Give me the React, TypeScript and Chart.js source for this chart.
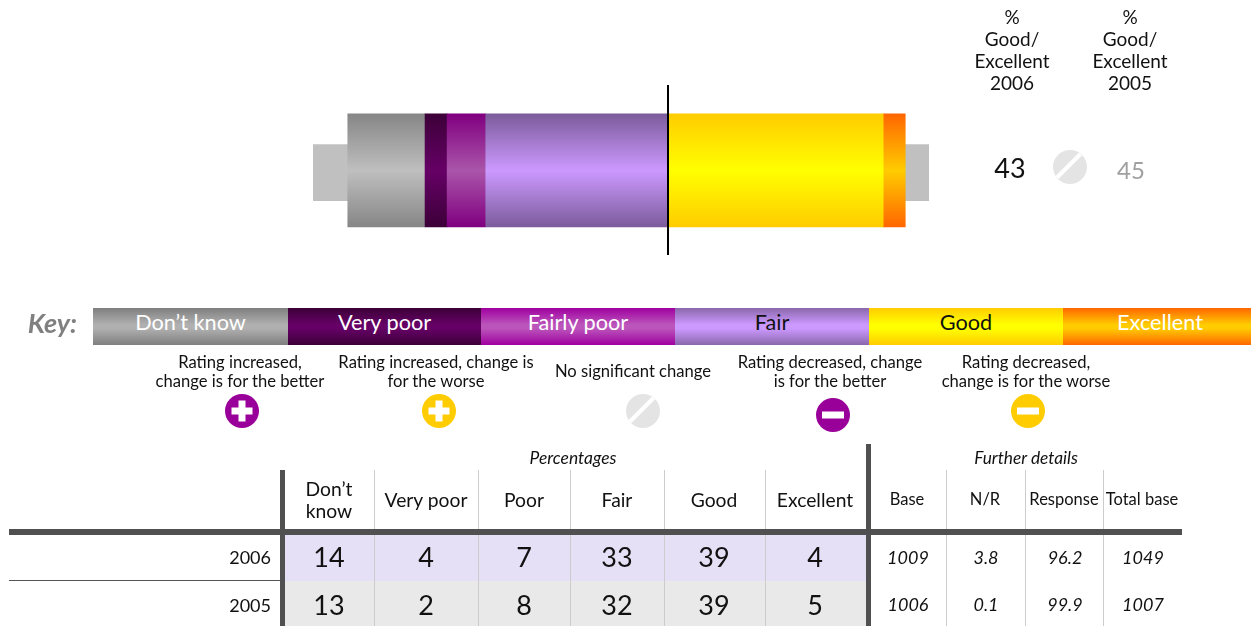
import React, { useEffect, useRef } from "react";
import { Chart, registerables } from "chart.js";

Chart.register(...registerables);

const FONT = "Lato, 'Noto Sans', sans-serif";

// ---- data ----
const ratingColumns = ["Don’t know", "Very poor", "Poor", "Fair", "Good", "Excellent"];
const values2006 = [14, 4, 7, 33, 39, 4];
const values2005 = [13, 2, 8, 32, 39, 5];
const years = ["2006", "2005"];
const furtherHeaders = ["Base", "N/R", "Response", "Total base"];
const further2006 = ["1009", "3.8", "96.2", "1049"];
const further2005 = ["1006", "0.1", "99.9", "1007"];
const rangeLow = -64.3;
const rangeHigh = 47.3;
const goodExcellent2006 = "43";
const goodExcellent2005 = "45";
const keyLabels = ["Don’t know", "Very poor", "Fairly poor", "Fair", "Good", "Excellent"];

// ---- styles ----
const gradientEnds: [string, string][] = [
  ["#868686", "#bfbfbf"],
  ["#3c0038", "#660066"],
  ["#800080", "#aa55aa"],
  ["#7c5c9c", "#cc99ff"],
  ["#ffcc00", "#ffff00"],
  ["#ff6600", "#ffcc00"],
];
const keyGradientEnds: [string, string][] = [
  ["#7f7f7f", "#b0b0b0"],
  ["#3c0038", "#660066"],
  ["#a000a0", "#bb55bb"],
  ["#8a68ac", "#cc99ff"],
  ["#ffcc00", "#ffff00"],
  ["#ff6600", "#ffcc00"],
];
const keyText = ["#ffffff", "#ffffff", "#ffffff", "#111111", "#111111", "#ffffff"];
const keyEdges = [93, 288, 481, 675, 869, 1063, 1251];
const keyNudge = [0, 0, 0, 0, 0, 6];
const colCentres = [329, 426, 524, 617, 714, 815];
const furtherCentres = [907, 985, 1064, 1142];
const thinLines = [374, 478, 570, 664, 765, 946, 1025, 1103];
const rowMid = [557, 605];

const BAR_H = 113;
const RANGE_H = 56;
// band positions on the hidden vertical axis, which runs in pixels from the top of the plot
const RATING_Y = 85.5;
const RANGE_Y = 88;

function barGradient(index: number) {
  return (ctx: any) => {
    const chart = ctx.chart;
    const area = chart.chartArea;
    if (!area) return gradientEnds[index][1];
    const mid = area.top + RATING_Y;
    const g = chart.ctx.createLinearGradient(0, mid - BAR_H / 2, 0, mid + BAR_H / 2);
    const [edge, centre] = gradientEnds[index];
    g.addColorStop(0, edge);
    g.addColorStop(0.5, centre);
    g.addColorStop(1, edge);
    return g;
  };
}

function cssGradient(index: number) {
  const [edge, centre] = keyGradientEnds[index];
  return `linear-gradient(to bottom, ${edge} 0%, ${centre} 45%, ${centre} 55%, ${edge} 100%)`;
}

const Txt: React.FC<{
  x: number;
  y: number;
  size: number;
  color?: string;
  italic?: boolean;
  bold?: boolean;
  align?: "center" | "right" | "left";
  lh?: number;
  children: React.ReactNode;
}> = ({ x, y, size, color = "#111", italic, bold, align = "center", lh, children }) => {
  const tx = align === "center" ? "-50%" : align === "right" ? "-100%" : "0";
  return (
    <div
      style={{
        position: "absolute",
        left: x,
        top: y,
        transform: `translate(${tx}, -50%)`,
        fontFamily: FONT,
        fontSize: size,
        lineHeight: lh ? `${lh}px` : 1.2,
        color,
        fontStyle: italic ? "italic" : "normal",
        fontWeight: bold ? 700 : 400,
        textAlign: align,
        whiteSpace: "pre",
      }}
    >
      {children}
    </div>
  );
};

const Rect: React.FC<{ x: number; y: number; w: number; h: number; c: string }> = ({ x, y, w, h, c }) => (
  <div style={{ position: "absolute", left: x, top: y, width: w, height: h, background: c }} />
);

const Icon: React.FC<{ cx: number; cy: number; kind: "plus" | "minus" | "same"; color: string }> = ({ cx, cy, kind, color }) => (
  <svg width={36} height={36} viewBox="-18 -18 36 36" style={{ position: "absolute", left: cx - 18, top: cy - 18 }}>
    <circle r={17} fill={color} />
    {kind === "plus" && <path d="M-3.5 -10.5h7v7h7v7h-7v7h-7v-7h-7v-7h7z" fill="#fff" />}
    {kind === "minus" && <rect x={-11} y={-3.5} width={22} height={7} fill="#fff" />}
    {kind === "same" && <path d="M-13 10.5 L10.5 -13" stroke="#fff" strokeWidth={4} />}
  </svg>
);

export default function App() {
  const ref = useRef<HTMLCanvasElement>(null);

  useEffect(() => {
    if (!ref.current) return;
    const [dk, vp, p, f, g, e] = values2006;
    const ratingBar = (label: string, v: number, i: number) => ({
      label,
      data: [{ x: v, y: RATING_Y }],
      backgroundColor: barGradient(i),
      stack: "rating",
      barThickness: BAR_H,
      grouped: false,
      order: 1,
    });
    const rangeBar = (label: string, v: number) => ({
      label,
      data: [{ x: v, y: RANGE_Y }],
      backgroundColor: "#c0c0c0",
      stack: "range",
      barThickness: RANGE_H,
      grouped: false,
      order: 2,
    });
    const chart = new Chart(ref.current, {
      type: "bar",
      data: {
        datasets: [
          ratingBar("Fair", -f, 3),
          ratingBar("Poor", -p, 2),
          ratingBar("Very poor", -vp, 1),
          ratingBar("Don't know", -dk, 0),
          ratingBar("Good", g, 4),
          ratingBar("Excellent", e, 5),
          rangeBar("Range low", rangeLow),
          rangeBar("Range high", rangeHigh),
        ] as any,
      },
      options: {
        indexAxis: "y",
        responsive: false,
        animation: false,
        layout: { padding: { left: 313, right: 322, top: 85, bottom: 371 } },
        plugins: { legend: { display: false }, title: { display: false }, tooltip: { enabled: false } },
        scales: {
          x: {
            type: "linear",
            stacked: true,
            min: rangeLow,
            max: rangeHigh,
            border: { display: false },
            ticks: { display: false },
            afterBuildTicks: (scale: any) => {
              scale.ticks = [{ value: 0 }];
            },
            grid: { color: "#000000", lineWidth: 2, drawTicks: false, z: 1 },
          },
          y: { type: "linear", stacked: true, display: false, reverse: true, min: 0, max: 170 },
        },
      } as any,
    });
    return () => chart.destroy();
  }, []);

  return (
    <div style={{ position: "absolute", left: 0, top: 0, width: 1251, height: 626, overflow: "hidden", background: "#fff" }}>
      <canvas ref={ref} width={1251} height={626} style={{ position: "absolute", left: 0, top: 0 }} />

      <Txt x={1012} y={50} size={19} lh={22}>{"%\nGood/\nExcellent\n2006"}</Txt>
      <Txt x={1130} y={50} size={19} lh={22}>{"%\nGood/\nExcellent\n2005"}</Txt>
      <Txt x={1010} y={168} size={27}>{goodExcellent2006}</Txt>
      <Icon cx={1070} cy={167} kind="same" color="#e4e4e4" />
      <Txt x={1131} y={170} size={24} color="#a0a0a0">{goodExcellent2005}</Txt>

      <Txt x={77} y={323} size={27} color="#808080" italic bold align="right">Key:</Txt>
      {keyLabels.map((k, i) => (
        <div
          key={k}
          style={{
            position: "absolute",
            left: keyEdges[i],
            top: 308,
            width: keyEdges[i + 1] - keyEdges[i] - keyNudge[i],
            height: 37,
            paddingLeft: keyNudge[i],
            lineHeight: "29px",
            textAlign: "center",
            background: cssGradient(i),
            color: keyText[i],
            fontFamily: FONT,
            fontSize: 21.7,
          }}
        >
          {k}
        </div>
      ))}

      <Txt x={240} y={372} size={16.6} lh={19}>{"Rating increased,\nchange is for the better"}</Txt>
      <Txt x={436} y={372} size={16.6} lh={19}>{"Rating increased, change is\nfor the worse"}</Txt>
      <Txt x={633} y={371} size={16.6} lh={19}>{"No significant change"}</Txt>
      <Txt x={830} y={372} size={16.6} lh={19}>{"Rating decreased, change\nis for the better"}</Txt>
      <Txt x={1026} y={372} size={16.6} lh={19}>{"Rating decreased,\nchange is for the worse"}</Txt>
      <Icon cx={242} cy={411} kind="plus" color="#990099" />
      <Icon cx={439} cy={411} kind="plus" color="#ffcc00" />
      <Icon cx={643} cy={411} kind="same" color="#e4e4e4" />
      <Icon cx={833} cy={415} kind="minus" color="#990099" />
      <Icon cx={1028} cy={411} kind="minus" color="#ffcc00" />

      <Rect x={285} y={535} w={581} h={46} c="#e6e0f7" />
      <Rect x={285} y={581} w={581} h={45} c="#e9e9e9" />
      {thinLines.map((x) => (
        <Rect key={x} x={x} y={470} w={1} h={156} c="#cccccc" />
      ))}
      <Rect x={9} y={580} w={271} h={1} c="#555555" />
      <Rect x={9} y={529} w={1173} h={6} c="#505050" />
      <Rect x={280} y={470} w={5} h={156} c="#505050" />
      <Rect x={866} y={444} w={5} h={182} c="#505050" />

      <Txt x={573} y={458} size={17.4} italic>Percentages</Txt>
      <Txt x={1026} y={458} size={17.3} italic>Further details</Txt>

      {ratingColumns.map((c, i) => (
        <Txt key={c} x={colCentres[i]} y={500} size={19.3} lh={22}>
          {c === "Don’t know" ? "Don’t\nknow" : c}
        </Txt>
      ))}
      {furtherHeaders.map((c, i) => (
        <Txt key={c} x={furtherCentres[i]} y={500} size={16.5}>{c}</Txt>
      ))}

      {years.map((y, r) => (
        <Txt key={y} x={271} y={rowMid[r] + 1} size={18} align="right">{y}</Txt>
      ))}
      {[values2006, values2005].map((row, r) =>
        row.map((v, i) => (
          <Txt key={`${r}-${i}`} x={colCentres[i]} y={rowMid[r]} size={27}>{String(v)}</Txt>
        ))
      )}
      {[further2006, further2005].map((row, r) =>
        row.map((v, i) => (
          <Txt key={`f${r}-${i}`} x={furtherCentres[i] + 1} y={rowMid[r] + (r === 0 ? 1 : 0)} size={18} italic>{v}</Txt>
        ))
      )}
    </div>
  );
}
